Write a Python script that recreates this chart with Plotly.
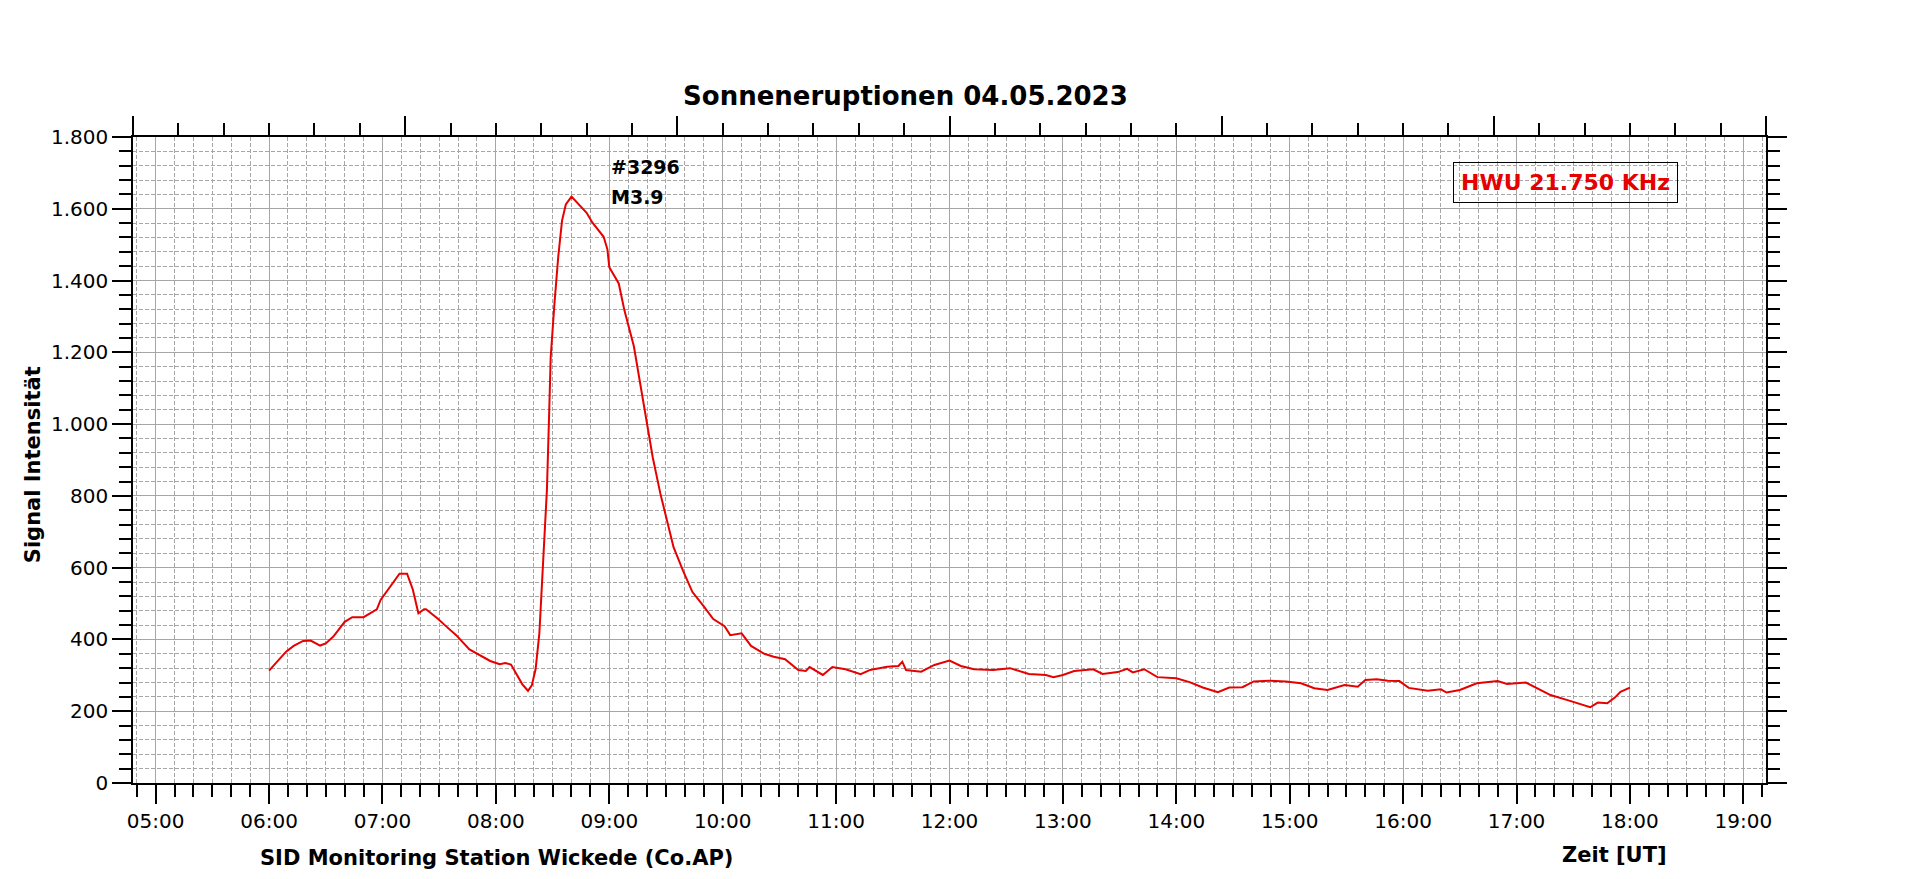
import plotly.graph_objects as go

DATE = "2023-05-04"

times = [
    "06:00", "06:09", "06:13", "06:18", "06:22", "06:27", "06:30", "06:34", "06:40", "06:44",
    "06:50", "06:57", "06:59", "07:03", "07:07", "07:09", "07:13", "07:16", "07:19", "07:22",
    "07:23", "07:29", "07:34", "07:39", "07:46", "07:52", "07:57", "08:02", "08:05", "08:08",
    "08:11", "08:14", "08:17", "08:19", "08:21", "08:23", "08:25", "08:27", "08:28", "08:29",
    "08:31", "08:33", "08:35", "08:37", "08:40", "08:43", "08:48", "08:51", "08:57", "08:59",
    "09:00", "09:05", "09:08", "09:13", "09:16", "09:20", "09:23", "09:27", "09:31", "09:34",
    "09:39", "09:44", "09:50", "09:55", "10:01", "10:04", "10:10", "10:15", "10:22", "10:27",
    "10:33", "10:40", "10:44", "10:46", "10:53", "10:58", "11:05", "11:13", "11:18", "11:27",
    "11:33", "11:35", "11:37", "11:45", "11:52", "12:00", "12:06", "12:13", "12:23", "12:32",
    "12:42", "12:51", "12:55", "13:00", "13:06", "13:16", "13:21", "13:29", "13:34", "13:37",
    "13:43", "13:50", "14:00", "14:07", "14:14", "14:22", "14:28", "14:35", "14:41", "14:49",
    "14:58", "15:06", "15:13", "15:20", "15:29", "15:36", "15:40", "15:46", "15:52", "15:58",
    "16:03", "16:13", "16:20", "16:23", "16:30", "16:39", "16:50", "16:55", "17:05", "17:11",
    "17:18", "17:27", "17:37", "17:39", "17:43", "17:48", "17:52", "17:55", "18:00",
]

signal = [
    313, 366, 382, 396, 397, 383, 389, 408, 449, 462,
    462, 484, 510, 538, 566, 583, 583, 540, 473, 484,
    484, 459, 435, 412, 372, 355, 340, 331, 334, 330,
    302, 275, 257, 272, 317, 417, 617, 817, 997, 1187,
    1337, 1467, 1567, 1612, 1634, 1617, 1589, 1562, 1522, 1487,
    1437, 1392, 1317, 1217, 1127, 1007, 907, 807, 717, 657,
    592, 532, 492, 457, 437, 412, 417, 382, 360, 352,
    345, 315, 312, 323, 301, 323, 317, 303, 315, 324,
    326, 338, 315, 310, 329, 341, 326, 317, 315, 320,
    304, 301, 295, 301, 312, 317, 304, 309, 318, 308,
    317, 295, 292, 281, 266, 253, 266, 267, 283, 285,
    283, 278, 264, 259, 273, 268, 287, 289, 285, 284,
    265, 257, 261, 252, 259, 278, 284, 276, 280, 264,
    245, 231, 214, 211, 224, 222, 238, 254, 266,
]

x_range = [f"{DATE} 04:48", f"{DATE} 19:12"]
y_range = [0, 1800]
top_range = [0, 36]

title_text = "Sonneneruptionen 04.05.2023"
y_title = "Signal Intensität"
x_title_left = "SID Monitoring Station Wickede (Co.AP)"
x_title_right = "Zeit [UT]"
legend_text = "HWU 21.750 KHz"
event_lines = ["#3296", "M3.9"]
event_time = "09:00"
event_values = [1716, 1633]

FONT = "DejaVu Sans"
GRID = "#A6A6A6"
MINOR_DASH = "4px,2px"

x = [f"{DATE} {t}" for t in times]

fig = go.Figure()
fig.add_trace(go.Scatter(
    x=x, y=signal, mode="lines",
    line=dict(color="#E60000", width=2),
    showlegend=False, hoverinfo="x+y",
))
# empty trace to attach the secondary (tick-only) axes
fig.add_trace(go.Scatter(x=[], y=[], xaxis="x2", yaxis="y2", showlegend=False))

fig.update_layout(
    width=1920, height=879,
    margin=dict(l=133, r=154, t=137, b=96),
    paper_bgcolor="white", plot_bgcolor="white",
    separators=",.",
    font=dict(family=FONT, size=20, color="black"),
    title=dict(
        text=f"<b>{title_text}</b>", x=0.473, xref="paper", xanchor="center",
        y=1 - 96 / 879, yref="container", yanchor="middle",
        font=dict(family=FONT, size=26, color="black"),
    ),
    xaxis=dict(
        type="date", range=x_range,
        tick0=f"{DATE} 00:00", dtick=3600000, tickformat="%H:%M",
        ticks="outside", ticklen=19, tickwidth=1.5, tickcolor="black",
        showline=True, linecolor="black", linewidth=1.5,
        showgrid=True, gridcolor=GRID, gridwidth=1,
        zeroline=False,
        tickfont=dict(family=FONT, size=20, color="black"),
        minor=dict(dtick=600000, tick0=f"{DATE} 00:00", ticks="outside", ticklen=12,
                   tickwidth=1.5, tickcolor="black",
                   showgrid=True, gridcolor=GRID, gridwidth=1, griddash=MINOR_DASH),
    ),
    xaxis2=dict(
        overlaying="x", side="top", range=top_range,
        tick0=0, dtick=6, ticks="outside", ticklen=19, tickwidth=1.5, tickcolor="black",
        showticklabels=False, showgrid=False, zeroline=False,
        showline=True, linecolor="black", linewidth=1.5,
        minor=dict(dtick=1, tick0=0, ticks="outside", ticklen=12, tickwidth=1.5,
                   tickcolor="black", showgrid=False),
    ),
    yaxis=dict(
        range=y_range, tick0=0, dtick=200, tickformat=",",
        ticks="outside", ticklen=19, tickwidth=1.5, tickcolor="black",
        showline=True, linecolor="black", linewidth=1.5,
        showgrid=True, gridcolor=GRID, gridwidth=1, zeroline=False,
        tickfont=dict(family=FONT, size=20, color="black"),
        minor=dict(dtick=40, tick0=0, ticks="outside", ticklen=12, tickwidth=1.5,
                   tickcolor="black", showgrid=True, gridcolor=GRID, gridwidth=1,
                   griddash=MINOR_DASH),
    ),
    yaxis2=dict(
        overlaying="y", side="right", range=y_range,
        tick0=0, dtick=200, ticks="outside", ticklen=19, tickwidth=1.5, tickcolor="black",
        showticklabels=False, showgrid=False, zeroline=False,
        showline=True, linecolor="black", linewidth=1.5,
        minor=dict(dtick=40, tick0=0, ticks="outside", ticklen=12, tickwidth=1.5,
                   tickcolor="black", showgrid=False),
    ),
)

# axis titles
fig.add_annotation(text=f"<b>{y_title}</b>", xref="paper", yref="paper",
                   x=-0.0612, y=0.492, textangle=-90, showarrow=False,
                   xanchor="center", yanchor="middle",
                   font=dict(family=FONT, size=21, color="black"))
fig.add_annotation(text=f"<b>{x_title_left}</b>", xref="paper", yref="paper",
                   x=0.2223, y=-0.116, showarrow=False, xanchor="center", yanchor="middle",
                   font=dict(family=FONT, size=21, color="black"))
fig.add_annotation(text=f"<b>{x_title_right}</b>", xref="paper", yref="paper",
                   x=0.9075, y=-0.111, showarrow=False, xanchor="center", yanchor="middle",
                   font=dict(family=FONT, size=21, color="black"))

# event labels
for txt, val in zip(event_lines, event_values):
    fig.add_annotation(text=f"<b>{txt}</b>", x=f"{DATE} {event_time}", y=val,
                       xref="x", yref="y", showarrow=False, xanchor="left", yanchor="middle",
                       font=dict(family=FONT, size=19, color="black"))

# station legend box
fig.add_annotation(text=f"<b>{legend_text}</b>", xref="paper", yref="paper",
                   x=0.877, y=0.929, showarrow=False, xanchor="center", yanchor="middle",
                   bordercolor="black", borderwidth=1, borderpad=7,
                   font=dict(family=FONT, size=22, color="#E60000"))

fig.write_html(
    "out.html",
    config={"displayModeBar": False},
    post_script="document.body.style.margin='0';document.body.style.overflow='hidden';",
)
